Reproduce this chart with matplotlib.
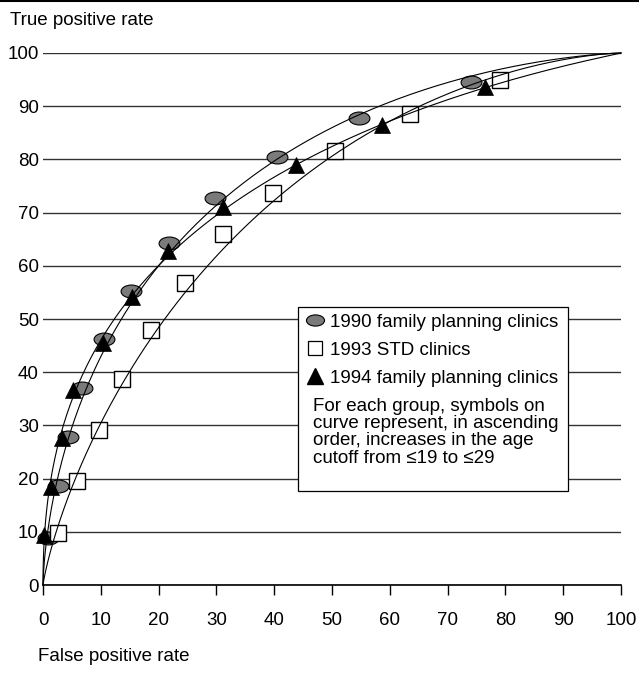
import math
import numpy as np
import matplotlib
matplotlib.use('Agg')
import matplotlib.pyplot as plt
from matplotlib.path import Path
from matplotlib.lines import Line2D
from matplotlib.patches import Rectangle
from matplotlib.transforms import Affine2D

plt.rcParams['font.family'] = ['Liberation Sans', 'DejaVu Sans']

# false / true positive rates for age cutoffs <=19 ... <=29
fpr_1990 = [0.9, 2.6, 4.3, 6.7, 10.5, 15.2, 21.8, 29.8, 40.5, 54.7, 74.0]
tpr_1990 = [8.8, 18.6, 27.8, 37.0, 46.3, 55.3, 64.2, 72.8, 80.5, 87.8, 94.6]

fpr_1993 = [2.6, 5.9, 9.7, 13.7, 18.7, 24.6, 31.1, 39.8, 50.5, 63.5, 79.1]
tpr_1993 = [9.8, 19.5, 29.1, 38.8, 48.0, 56.8, 66.0, 73.7, 81.6, 88.6, 94.9]

fpr_1994 = [0.2, 1.4, 3.3, 5.2, 10.4, 15.4, 21.6, 31.1, 43.8, 58.7, 76.5]
tpr_1994 = [9.4, 18.4, 27.6, 36.6, 45.4, 54.2, 62.7, 71.1, 79.0, 86.5, 93.6]

labels = ['1990 family planning clinics', '1993 STD clinics', '1994 family planning clinics']
note = ('For each group, symbols on\ncurve represent, in ascending\n'
        'order, increases in the age\ncutoff from \u226419 to \u226429')

FS = 13.5

erf = np.vectorize(math.erf)


def phi(z):
    return 0.5 * (1 + erf(np.asarray(z) / math.sqrt(2)))


def phi_inv(p):
    # bisection, good enough here
    p = np.asarray(p, float)
    lo = np.full(p.shape, -9.0)
    hi = np.full(p.shape, 9.0)
    for _ in range(60):
        mid = (lo + hi) / 2
        low = phi(mid) < p
        lo = np.where(low, mid, lo)
        hi = np.where(low, hi, mid)
    return (lo + hi) / 2


def roc_curve(fx, fy):
    # binormal ROC fitted to the points
    zx = phi_inv(np.array(fx) / 100)
    zy = phi_inv(np.array(fy) / 100)
    b, a = np.polyfit(zx, zy, 1)
    z = np.linspace(-6, 6, 600)
    cx = np.concatenate([[0], phi(z) * 100, [100]])
    cy = np.concatenate([[0], phi(a + b * z) * 100, [100]])
    return cx, cy


ell = Path.unit_circle().transformed(Affine2D().scale(1.0, 0.62))

fig = plt.figure(figsize=(6.39, 6.75), dpi=100)
ax = fig.add_axes([0.0673, 0.1333, 0.9045, 0.7882])

# markers first, curves drawn over them
ax.plot(fpr_1990, tpr_1990, ls='none', marker=ell, ms=15, mfc='#7a7a7a', mec='black',
        mew=0.8, clip_on=False, zorder=3)
ax.plot(fpr_1993, tpr_1993, ls='none', marker='s', ms=11, mfc='white', mec='black',
        mew=1.0, clip_on=False, zorder=3)
ax.plot(fpr_1994, tpr_1994, ls='none', marker='^', ms=12, mfc='black', mec='black',
        mew=0.5, clip_on=False, zorder=3)

for fx, fy in [(fpr_1990, tpr_1990), (fpr_1993, tpr_1993), (fpr_1994, tpr_1994)]:
    cx, cy = roc_curve(fx, fy)
    ax.plot(cx, cy, color='black', lw=0.8, zorder=4, clip_on=False)

ax.set_xlim(0, 100)
ax.set_ylim(0, 100)
ax.set_xticks(np.arange(0, 101, 10))
ax.set_yticks(np.arange(0, 101, 10))
ax.tick_params(axis='x', length=7.5, width=1, direction='out', pad=12, labelsize=FS)
ax.tick_params(axis='y', length=0, pad=3, labelsize=FS)
ax.yaxis.grid(True, color='#333333', lw=1)
ax.set_axisbelow(True)
for s in ['top', 'right', 'left']:
    ax.spines[s].set_visible(False)
ax.spines['bottom'].set_linewidth(1.2)

# legend box with note
ax.add_patch(Rectangle((0.441, 0.1767), 0.467, 0.3459, transform=ax.transAxes,
                       facecolor='white', edgecolor='black', lw=0.9, zorder=5, clip_on=False))
handles = [
    Line2D([], [], ls='none', marker=ell, ms=13, mfc='#7a7a7a', mec='black', mew=0.8),
    Line2D([], [], ls='none', marker='s', ms=9.5, mfc='white', mec='black', mew=0.9),
    Line2D([], [], ls='none', marker='^', ms=12, mfc='black', mec='black'),
]
leg = ax.legend(handles, labels, loc='upper left', bbox_to_anchor=(0.455, 0.510),
                frameon=False, fontsize=FS, handlelength=1.0, handletextpad=0.3,
                labelspacing=0.58, borderpad=0, borderaxespad=0)
leg.set_zorder(6)
ax.text(0.467, 0.352, note, transform=ax.transAxes, fontsize=FS, va='top', ha='left',
        linespacing=1.02, zorder=6)

fig.text(0.016, 0.969, 'True positive rate', fontsize=FS, va='center', ha='left')
fig.text(0.059, 0.027, 'False positive rate', fontsize=FS, va='center', ha='left')
fig.add_artist(Line2D([0, 1], [0.9985, 0.9985], color='black', lw=1.5,
                      transform=fig.transFigure))

fig.savefig('out.png', dpi=100)
